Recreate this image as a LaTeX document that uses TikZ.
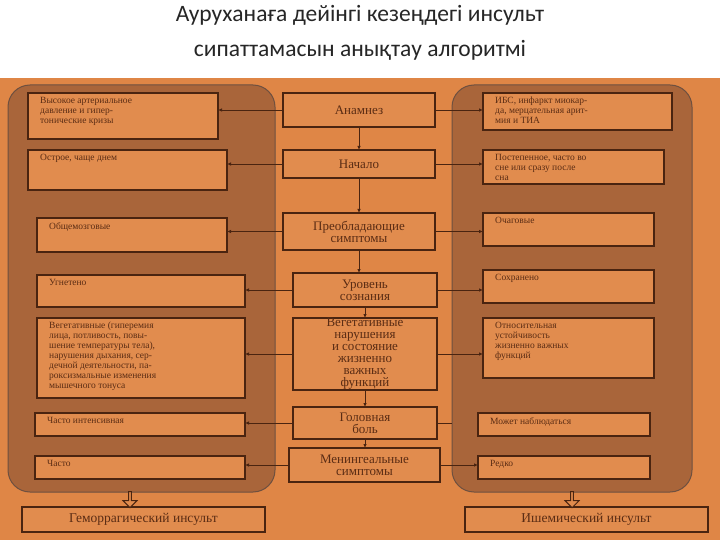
\documentclass[tikz,border=0pt]{standalone}
\usepackage{fontspec}
\setmainfont{Liberation Serif}
\newfontfamily\titlefont{Carlito}
\usetikzlibrary{arrows.meta,shapes.arrows}
\definecolor{bg}{HTML}{DF8646}
\definecolor{boxc}{HTML}{E18C4E}
\definecolor{pan}{HTML}{A9653A}
\definecolor{ln}{HTML}{4A2410}
\definecolor{tx}{HTML}{5A2C14}
\newcommand\cenbox[6]{\draw[bx] (#2,#3) rectangle (#4,#5); \node[ct] (#1) at ({(#2+#4)/2},{(#3+#5)/2}) {#6}; \coordinate (#1L) at (#2,{(#3+#5)/2}); \coordinate (#1R) at (#4,{(#3+#5)/2}); \coordinate (#1T) at ({(#2+#4)/2},#3); \coordinate (#1B) at ({(#2+#4)/2},#5);}
\newcommand\sidebox[6]{\draw[bx] (#2,#3) rectangle (#4,#5); \node[sm] (#1) at ({#2+12},{#3+4}) {#6}; \coordinate (#1L) at (#2,{(#3+#5)/2}); \coordinate (#1R) at (#4,{(#3+#5)/2});}
\begin{document}
\begin{tikzpicture}[x=1pt,y=-1pt,
 bx/.style={draw=ln,line width=1.2pt,fill=boxc},
 sm/.style={text=tx,font=\fontsize{9.5}{10}\selectfont,align=left,anchor=north west,inner sep=0pt},
 ct/.style={text=tx,font=\fontsize{13}{12}\selectfont,align=center,inner sep=0pt},
 ar/.style={draw=ln,line width=0.8pt,-{Latex[length=4pt,width=3.5pt]}},
 hol/.style={single arrow,shape border rotate=270,draw=ln,fill=boxc,line width=1pt,minimum height=16pt,minimum width=14pt,single arrow head extend=2pt,inner sep=0pt}]
\useasboundingbox (0,0) rectangle (720,540);
\fill[white] (0,0) rectangle (720,540);
\fill[bg] (0,78) rectangle (720,540);
\node[font=\titlefont\fontsize{23.5}{23}\selectfont,text=black!85] (t1) at (360,15) {Ауруханаға дейінгі кезеңдегі инсульт};
\node[font=\titlefont\fontsize{23.5}{23}\selectfont,text=black!85] (t2) at (360,50) {сипаттамасын анықтау алгоритмі};
% panels
\draw[fill=pan,draw=ln!80,line width=1pt,rounded corners=22pt] (8,85) rectangle (275,492);
\draw[fill=pan,draw=ln!80,line width=1pt,rounded corners=22pt] (452,85) rectangle (692,492);
% center boxes
\cenbox{c1}{283}{93}{435}{127}{Анамнез}
\cenbox{c2}{283}{150}{435}{178}{Начало}
\cenbox{c3}{283}{213}{435}{250}{Преобладающие\\симптомы}
\cenbox{c4}{293}{273}{437}{307}{Уровень\\сознания}
\cenbox{c5}{293}{318}{437}{390}{Вегетативные\\нарушения\\и состояние\\жизненно\\важных\\функций}
\cenbox{c6}{293}{407}{437}{439}{Головная\\боль}
\cenbox{c7}{289}{448}{440}{482}{Менингеальные\\симптомы}
% side boxes
\sidebox{l1}{28}{93}{218}{139}{Высокое артериальное\\давление и гипер-\\тонические кризы}
\sidebox{l2}{28}{150}{227}{190}{Острое, чаще днем}
\sidebox{l3}{37}{218}{227}{252}{Общемозговые}
\sidebox{l4}{37}{275}{245}{307}{Угнетено}
\sidebox{l5}{37}{318}{245}{398}{Вегетативные (гиперемия\\лица, потливость, повы-\\шение температуры тела),\\нарушения дыхания, сер-\\дечной деятельности, па-\\роксизмальные изменения\\мышечного тонуса}
\sidebox{l6}{35}{413}{245}{436}{Часто интенсивная}
\sidebox{l7}{35}{456}{245}{479}{Часто}
\sidebox{r1}{483}{93}{672}{130}{ИБС, инфаркт миокар-\\да, мерцательная арит-\\мия и ТИА}
\sidebox{r2}{483}{150}{664}{184}{Постепенное, часто во\\сне или сразу после\\сна}
\sidebox{r3}{483}{213}{654}{246}{Очаговые}
\sidebox{r4}{483}{270}{654}{303}{Сохранено}
\sidebox{r5}{483}{318}{654}{378}{Относительная\\устойчивость\\жизненно важных\\функций}
\sidebox{r6}{478}{413}{650}{436}{Может наблюдаться}
\sidebox{r7}{478}{456}{650}{479}{Редко}
% arrows
\foreach \i in {1,...,7}{\draw[ar] (c\i L) -- (c\i L -| l\i R);}
\foreach \i in {1,2,3,4,5,7}{\draw[ar] (c\i R) -- (c\i R -| r\i L);}
\coordinate (pe) at (452,423);
\draw[draw=ln,line width=0.8pt] (c6R) -- (pe);
\draw[ar] (c1B) -- (c2T);
\draw[ar] (c2B) -- (c3T);
\draw[ar] (c3B) -- (c3B |- c4T);
\draw[ar] (c4B) -- (c4B |- c5T);
\draw[ar] (c5B) -- (c5B |- c6T);
\draw[ar] (c6B) -- (c6B |- c7T);
% bottom
\draw[bx] (22,507) rectangle (265,532);
\node[ct,font=\fontsize{13.5}{12}\selectfont] (h) at (143.5,519.5) {Геморрагический инсульт};
\draw[bx] (465,507) rectangle (708,532);
\node[ct,font=\fontsize{13.5}{12}\selectfont] (i) at (586.5,519.5) {Ишемический инсульт};
\node[hol] (a1) at (130,499) {};
\node[hol] (a2) at (572,499) {};
\end{tikzpicture}
\end{document}
